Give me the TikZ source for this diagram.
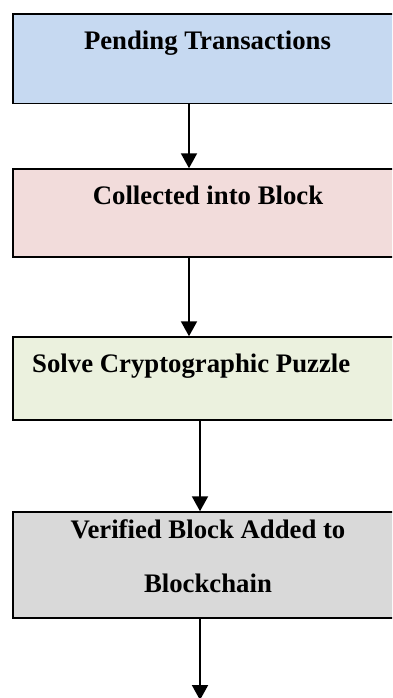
\documentclass[tikz,border=0pt]{standalone}
\usepackage{fontspec}
\setmainfont{Liberation Serif}
\usetikzlibrary{arrows.meta}
\definecolor{cblue}{HTML}{C6D9F1}
\definecolor{cpink}{HTML}{F2DCDB}
\definecolor{cgreen}{HTML}{EBF1DE}
\definecolor{cgray}{HTML}{D9D9D9}
\tikzset{
  stagebox/.style={draw=black, line width=1.5pt, rectangle, inner sep=0pt, minimum width=389pt},
  stagetext/.style={font=\bfseries\fontsize{26.75}{54}\selectfont, inner sep=0pt, anchor=base, align=center},
  flow/.style={line width=2pt, -{Triangle[width=16pt,length=15pt]}}
}
\begin{document}
\begin{tikzpicture}[x=1pt,y=-1pt]
\useasboundingbox (0,0) rectangle (392,698);
\clip (0,0) rectangle (392,698);
\node[stagebox, fill=cblue, minimum height=89.5pt] (b1) at (207.5,58.75) {};
\node[stagebox, fill=cpink, minimum height=88pt] (b2) at (207.5,213) {};
\node[stagebox, fill=cgreen, minimum height=83pt] (b3) at (207.5,378.5) {};
\node[stagebox, fill=cgray, minimum height=106pt] (b4) at (207.5,565) {};
\node[stagetext] (t1) at (207.5,50) {Pending Transactions};
\node[stagetext] (t2) at (208,204) {Collected into Block};
\node[stagetext, anchor=base west] (t3) at (32,372) {Solve Cryptographic Puzzle};
\node[stagetext] (t4) at (208,592) {Verified Block Added to\\Blockchain};
\coordinate (end) at (200,700);
\draw[flow] ([xshift=-18.5pt]b1.south) -- ([xshift=-18.5pt]b2.north);
\draw[flow] ([xshift=-18.5pt]b2.south) -- ([xshift=-18.5pt]b3.north);
\draw[flow] ([xshift=-7.5pt]b3.south) -- ([xshift=-7.5pt]b4.north);
\draw[flow] ([xshift=-7.5pt]b4.south) -- (end);
\end{tikzpicture}
\end{document}
